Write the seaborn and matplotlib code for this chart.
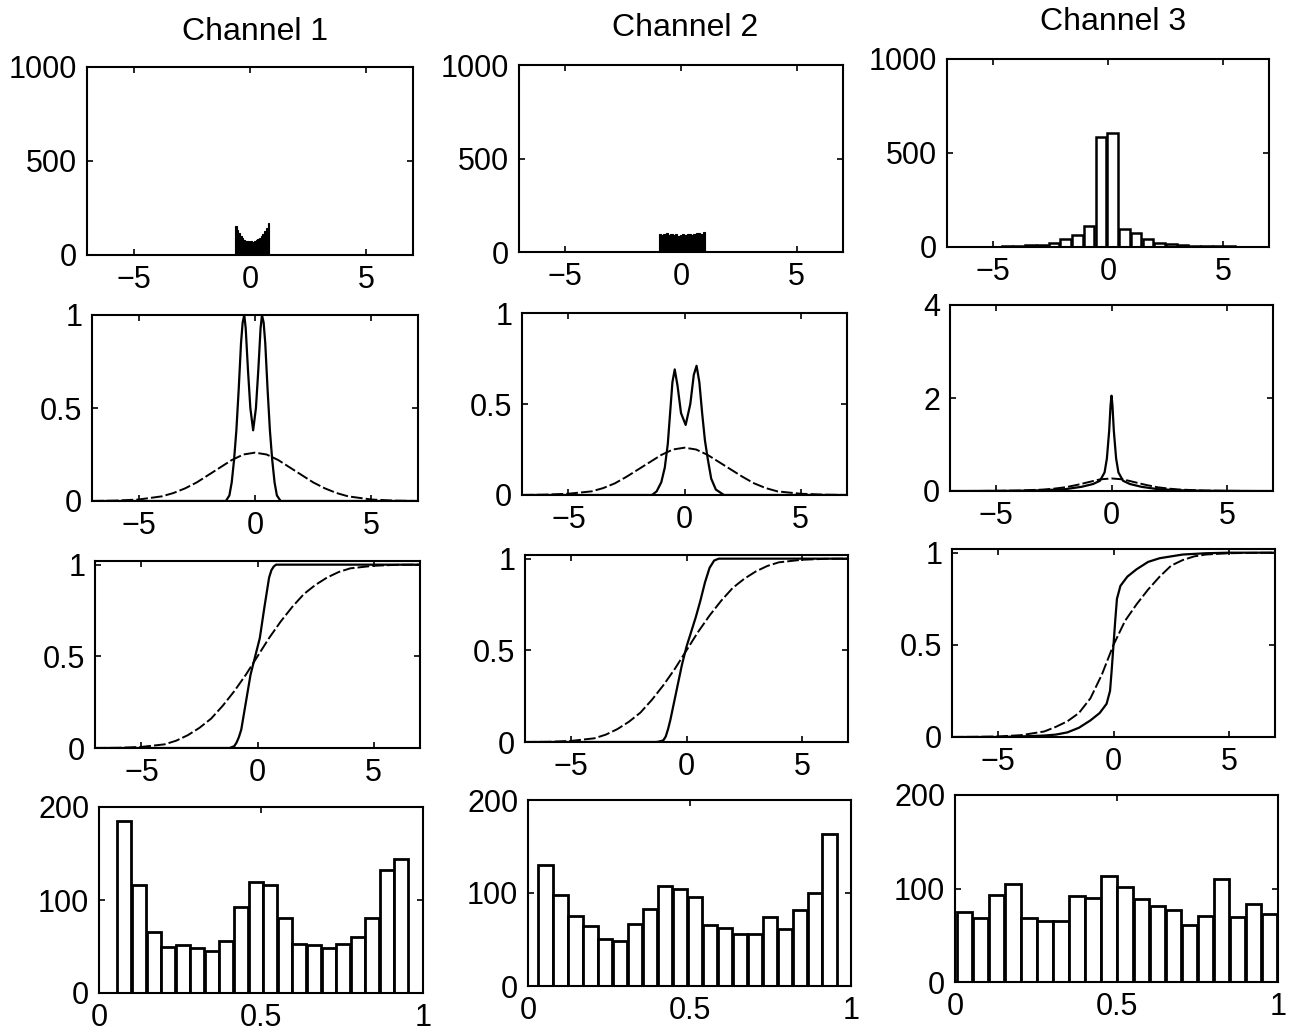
import numpy as np
import pandas as pd
import matplotlib
matplotlib.use("Agg")
import matplotlib.pyplot as plt
import seaborn as sns

channels = ['Channel 1', 'Channel 2', 'Channel 3']

# Row 1: histograms of the signals (bin start, bin width, counts)
top_start = [-0.65, -0.96, -5.155]
top_width = [0.074, 0.1, 0.51]
top_counts = [
    [156, 135, 118, 100, 90, 82, 76, 72, 68, 72, 70, 74, 80, 86, 92, 100, 112, 128, 145, 168],
    [98, 92, 95, 100, 93, 96, 90, 94, 88, 92, 96, 90, 94, 98, 92, 96, 100, 104, 98, 108],
    [2, 3, 5, 8, 12, 23, 45, 63, 112, 585, 608, 95, 72, 40, 22, 15, 10, 7, 5, 4, 3],
]

# Row 2: estimated densities (solid) and gaussian fits (dashed)
pdf_x = [
    [-7, -1.25, -1.1, -1.0, -0.9, -0.8, -0.7, -0.6, -0.53, -0.46, -0.4, -0.3, -0.2, -0.08,
     0.04, 0.14, 0.24, 0.30, 0.37, 0.44, 0.54, 0.64, 0.74, 0.84, 0.94, 1.1, 7],
    [-7, -1.4, -1.2, -1.0, -0.85, -0.72, -0.62, -0.52, -0.42, -0.3, -0.15, 0.05, 0.25, 0.4,
     0.52, 0.64, 0.76, 0.88, 1.0, 1.15, 1.35, 1.7, 7],
    [-7, -6, -4, -3, -2, -1.3, -0.8, -0.5, -0.3, -0.2, -0.1, -0.04, 0, 0.04, 0.1, 0.2, 0.3,
     0.5, 0.8, 1.3, 2, 3, 4, 6, 7],
]
pdf_y = [
    [0, 0, 0.03, 0.1, 0.22, 0.38, 0.6, 0.85, 0.96, 1.0, 0.93, 0.7, 0.5, 0.38,
     0.5, 0.7, 0.93, 1.0, 0.96, 0.85, 0.6, 0.38, 0.22, 0.1, 0.03, 0, 0],
    [0, 0, 0.02, 0.07, 0.15, 0.28, 0.45, 0.62, 0.69, 0.6, 0.45, 0.385, 0.5, 0.66,
     0.71, 0.62, 0.45, 0.3, 0.2, 0.09, 0.03, 0, 0],
    [0, 0, 0.005, 0.015, 0.04, 0.09, 0.15, 0.22, 0.4, 0.7, 1.3, 1.85, 2.05, 1.85, 1.3, 0.7, 0.4,
     0.22, 0.15, 0.09, 0.04, 0.015, 0.005, 0, 0],
]
fit_x = [-7, -6, -5, -4, -3.5, -3, -2.5, -2, -1.5, -1, -0.5, 0, 0.5, 1, 1.5, 2, 2.5, 3, 3.5, 4, 5, 6, 7]
fit_pdf = [
    [0, 0.002, 0.008, 0.025, 0.043, 0.068, 0.1, 0.14, 0.18, 0.22, 0.25, 0.26,
     0.25, 0.22, 0.18, 0.14, 0.1, 0.068, 0.043, 0.025, 0.008, 0.002, 0],
    [0, 0.002, 0.007, 0.02, 0.038, 0.064, 0.1, 0.14, 0.18, 0.22, 0.25, 0.26,
     0.25, 0.22, 0.18, 0.14, 0.1, 0.064, 0.038, 0.02, 0.007, 0.002, 0],
    [0, 0.001, 0.003, 0.01, 0.02, 0.03, 0.05, 0.08, 0.13, 0.19, 0.25, 0.27,
     0.25, 0.19, 0.13, 0.08, 0.05, 0.03, 0.02, 0.01, 0.003, 0.001, 0],
]

# Row 3: cumulative distributions
cdf_x = [
    [-7, -1.2, -1.0, -0.9, -0.8, -0.7, -0.5, -0.3, -0.1, 0.1, 0.3, 0.5, 0.6, 0.7, 0.8, 1.0, 7],
    [-7, -1.3, -1.1, -1.0, -0.9, -0.8, -0.7, -0.55, -0.4, -0.2, 0, 0.2, 0.4, 0.6, 0.8, 1.0,
     1.2, 1.4, 7],
    [-7, -5, -4, -3, -2.5, -2, -1.5, -1, -0.6, -0.3, -0.15, -0.08, 0, 0.08, 0.15, 0.3, 0.6,
     1, 1.5, 2, 2.5, 3, 4, 5, 7],
]
cdf_y = [
    [0, 0, 0.01, 0.03, 0.06, 0.1, 0.25, 0.4, 0.5, 0.6, 0.77, 0.93, 0.97, 0.99, 1.0, 1.0, 1.0],
    [0, 0, 0.005, 0.01, 0.03, 0.07, 0.12, 0.21, 0.3, 0.42, 0.52, 0.6, 0.68, 0.77, 0.87, 0.95,
     0.99, 1.0, 1.0],
    [0, 0, 0.003, 0.008, 0.013, 0.025, 0.05, 0.09, 0.13, 0.18, 0.25, 0.36, 0.5, 0.64, 0.75,
     0.82, 0.87, 0.91, 0.95, 0.97, 0.98, 0.99, 0.997, 1, 1],
]
fit_cdf = [
    [0, 0.001, 0.006, 0.02, 0.04, 0.07, 0.11, 0.16, 0.23, 0.31, 0.4, 0.5,
     0.6, 0.69, 0.77, 0.84, 0.89, 0.93, 0.96, 0.98, 0.994, 0.999, 1],
    [0, 0.001, 0.006, 0.02, 0.04, 0.07, 0.11, 0.16, 0.23, 0.31, 0.4, 0.5,
     0.6, 0.69, 0.77, 0.84, 0.89, 0.93, 0.96, 0.98, 0.994, 0.999, 1],
    [0, 0.001, 0.003, 0.01, 0.02, 0.03, 0.055, 0.085, 0.13, 0.21, 0.34, 0.5,
     0.63, 0.72, 0.8, 0.87, 0.93, 0.96, 0.98, 0.99, 0.997, 0.999, 1],
]

# Row 4: histograms of the transformed values on [0, 1]
bot_start = [0.056, 0.031, 0.005]
bot_width = [0.045, 0.0463, 0.0497]
bot_counts = [
    [185, 116, 66, 50, 52, 48, 45, 56, 92, 119, 116, 81, 53, 52, 48, 53, 60, 81, 132, 144],
    [130, 98, 75, 64, 51, 48, 67, 83, 107, 104, 96, 66, 62, 56, 56, 74, 61, 82, 100, 163],
    [75, 68, 93, 105, 68, 65, 65, 92, 90, 113, 102, 89, 81, 77, 61, 71, 110, 69, 83, 73],
]

xt_signal = [-5, 0, 5]
xt_signal_lab = ['\u22125', '0', '5']
xt_unit = [0, 0.5, 1]
xt_unit_lab = ['0', '0.5', '1']
yt_top = [0, 500, 1000]
yt_top_lab = ['0', '500', '1000']
yt_prob = [0, 0.5, 1]
yt_prob_lab = ['0', '0.5', '1']
yt_pdf3 = [0, 2, 4]
yt_pdf3_lab = ['0', '2', '4']
yt_bot = [0, 100, 200]
yt_bot_lab = ['0', '100', '200']

sns.set_style("ticks")
plt.rcParams['font.family'] = ['Liberation Sans', 'DejaVu Sans']
plt.rcParams['font.size'] = 22
plt.rcParams['axes.linewidth'] = 1.4
plt.rcParams['text.color'] = 'black'
plt.rcParams['xtick.color'] = 'black'
plt.rcParams['ytick.color'] = 'black'
plt.rcParams['axes.edgecolor'] = 'black'

W, H = 1292, 1035
fig = plt.figure(figsize=(W / 100, H / 100), dpi=100)

# axes boxes in pixels (left, top, right, bottom)
boxes = [
    [(87, 67, 413, 255), (519, 65, 843, 252), (947, 59, 1269, 247)],
    [(92, 315, 418, 501), (522, 313, 847, 495), (950, 305, 1273, 491)],
    [(95, 561, 420, 748), (525, 555, 848, 742), (952, 549, 1275, 737)],
    [(99, 807, 423, 993), (528, 800, 851, 986), (955, 795, 1278, 982)],
]
title_pos = [(255, 32), (685, 28), (1113, 22)]

dash = (0, (6, 1.6))


def make_ax(box):
    l, t, r, b = box
    ax = fig.add_axes([l / W, 1 - b / H, (r - l) / W, (b - t) / H])
    ax.tick_params(direction='in', length=4, width=1.2, top=True, right=True,
                   labelsize=22, pad=7, colors='black')
    for s in ax.spines.values():
        s.set_visible(True)
        s.set_linewidth(1.5)
        s.set_color('black')
    return ax


def hist(ax, start, width, counts, **kw):
    n = len(counts)
    edges = [start + width * i for i in range(n + 1)]
    df = pd.DataFrame({'x': [e + width / 2 for e in edges[:-1]], 'w': counts})
    sns.histplot(data=df, x='x', weights='w', bins=edges, ax=ax, alpha=1, **kw)


for j in range(3):
    # row 1
    ax = make_ax(boxes[0][j])
    if j < 2:
        hist(ax, top_start[j], top_width[j], top_counts[j],
             color='black', edgecolor='black', linewidth=0.8)
    else:
        hist(ax, top_start[j], top_width[j], top_counts[j], shrink=0.9,
             color='white', edgecolor='black', linewidth=1.8)
    ax.set_xlim(-7, 7)
    ax.set_ylim(0, 1000)
    ax.set_xticks(xt_signal, xt_signal_lab)
    ax.set_yticks(yt_top, yt_top_lab)

    # row 2
    ax = make_ax(boxes[1][j])
    sns.lineplot(x=fit_x, y=fit_pdf[j], ax=ax, color='black', linewidth=1.4, linestyle=dash)
    sns.lineplot(x=pdf_x[j], y=pdf_y[j], ax=ax, color='black', linewidth=1.6)
    ax.set_xlim(-7, 7)
    if j < 2:
        ax.set_ylim(0, 1)
        ax.set_yticks(yt_prob, yt_prob_lab)
    else:
        ax.set_ylim(0, 4)
        ax.set_yticks(yt_pdf3, yt_pdf3_lab)
    ax.set_xticks(xt_signal, xt_signal_lab)

    # row 3
    ax = make_ax(boxes[2][j])
    sns.lineplot(x=fit_x, y=fit_cdf[j], ax=ax, color='black', linewidth=1.4, linestyle=dash)
    sns.lineplot(x=cdf_x[j], y=cdf_y[j], ax=ax, color='black', linewidth=1.6)
    ax.set_xlim(-7, 7)
    ax.set_ylim(0, 1.02)
    ax.set_xticks(xt_signal, xt_signal_lab)
    ax.set_yticks(yt_prob, yt_prob_lab)

    # row 4
    ax = make_ax(boxes[3][j])
    hist(ax, bot_start[j], bot_width[j], bot_counts[j], shrink=0.96,
         color='white', edgecolor='black', linewidth=2.0)
    ax.set_xlim(0, 1)
    ax.set_ylim(0, 200)
    ax.set_xticks(xt_unit, xt_unit_lab)
    ax.set_yticks(yt_bot, yt_bot_lab)

    for a in fig.axes[-4:]:
        a.set_xlabel('')
        a.set_ylabel('')

    fig.text(title_pos[j][0] / W, 1 - title_pos[j][1] / H, channels[j],
             ha='center', va='center', fontsize=23, color='black')

fig.savefig('out.png', dpi=100, facecolor='white')
